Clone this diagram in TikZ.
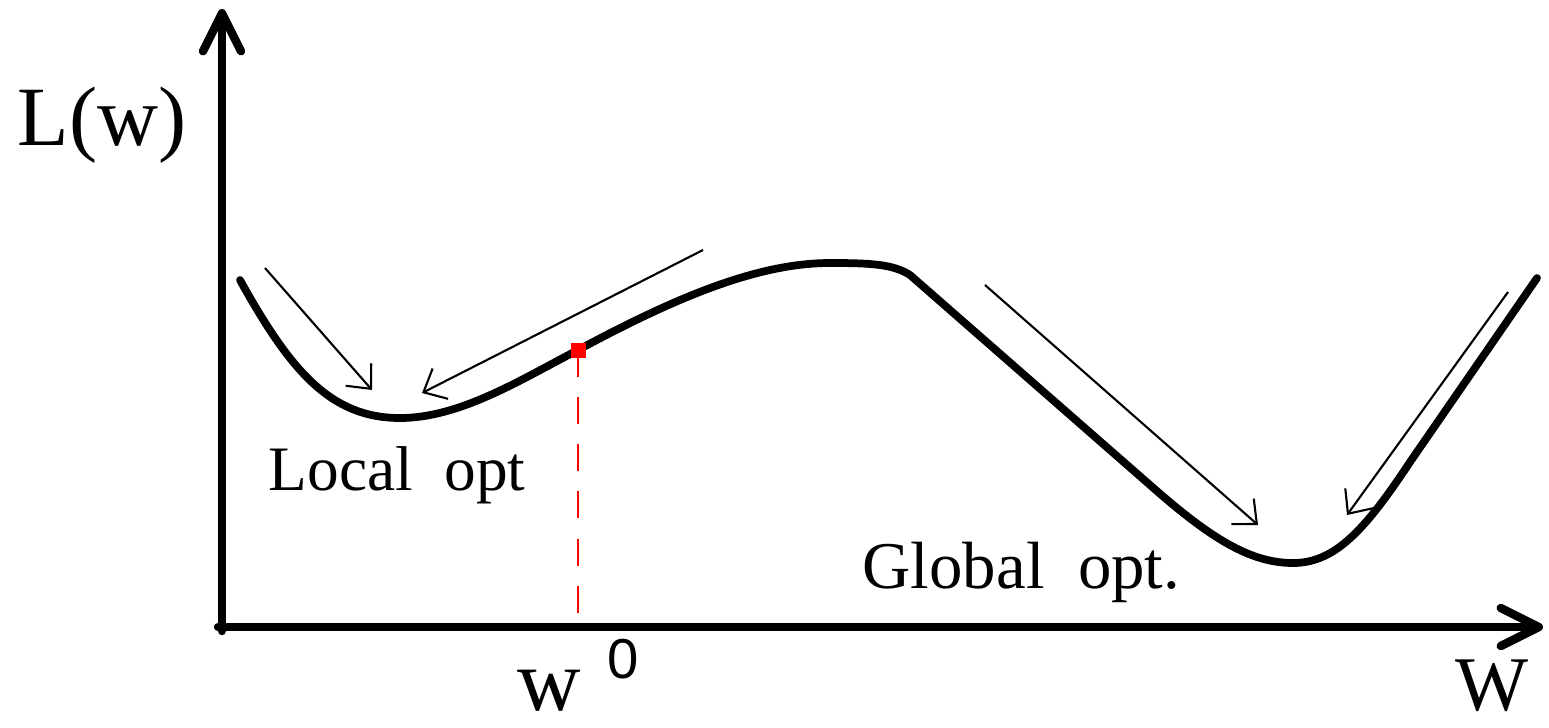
\documentclass[tikz,border=0pt]{standalone}
\usepackage{fontspec}
\setmainfont{Liberation Serif}
\newfontfamily\zerofont{Liberation Sans}
\usetikzlibrary{arrows.meta}
\begin{document}
\begin{tikzpicture}[x=0.01cm,y=-0.01cm,
  axis/.style={line width=2.4pt,line cap=round,-{Straight Barb[length=0.38cm,width=0.38cm,line cap=round,line join=round]}},
  curve/.style={line width=2.2pt,line cap=round,line join=round},
  hint/.style={line width=0.6pt,-{Straight Barb[length=0.19cm,width=0.34cm]}},
  lbl/.style={inner sep=0pt,anchor=base west}]
\useasboundingbox (0,0) rectangle (1549,727);
% axes
\coordinate (o) at (222,627);
\coordinate (ytop) at (222,9);
\coordinate (xend) at (1543,627);
\draw[axis] (222,631) -- (ytop);
\draw[axis] (218,627) -- (xend);
% loss curve
\draw[curve] (240,280) .. controls (290,370) and (330,418) .. (400,418)
  .. controls (460,418) and (520,380) .. (578,350)
  .. controls (680,295) and (760,263) .. (830,263)
  .. controls (870,263) and (893,264) .. (910,275)
  -- (1150,485)
  .. controls (1210,538) and (1250,563) .. (1293,563)
  .. controls (1335,563) and (1365,530) .. (1410,462)
  -- (1537,278);
% hint arrows
\coordinate (a1s) at (265,268); \coordinate (a1e) at (372,390);
\coordinate (a2s) at (703,250); \coordinate (a2e) at (422,393);
\coordinate (a3s) at (985,285); \coordinate (a3e) at (1258,525);
\coordinate (a4s) at (1508,292); \coordinate (a4e) at (1347,515);
\draw[hint] (a1s) -- (a1e);
\draw[hint] (a2s) -- (a2e);
\draw[hint] (a3s) -- (a3e);
\draw[hint] (a4s) -- (a4e);
% start point
\coordinate (w0pt) at (578,350);
\coordinate (w0ax) at (578,622);
\draw[red,line width=0.8pt,dash pattern=on 7.7pt off 5.7pt] (w0pt) -- (w0ax);
\node[fill=red,minimum size=0.15cm,inner sep=0pt] (start) at (w0pt) {};
% labels
\node[lbl,font=\fontsize{24}{28}\selectfont] (ly) at (17,145) {L(w)};
\node[lbl,font=\fontsize{18}{22}\selectfont] (loc) at (268,490) {Local\ \ opt};
\node[lbl,font=\fontsize{19}{23}\selectfont] (glob) at (862,588) {Global\ \ opt.};
\node[lbl,font=\fontsize{22}{26}\selectfont] (lx) at (1455,710) {W};
\node[lbl,font=\fontsize{25}{29}\selectfont] (w0) at (517,710) {w\hspace{0.3em}\raisebox{0.36em}{\zerofont\fontsize{16}{19}\selectfont 0}};
\end{tikzpicture}
\end{document}
